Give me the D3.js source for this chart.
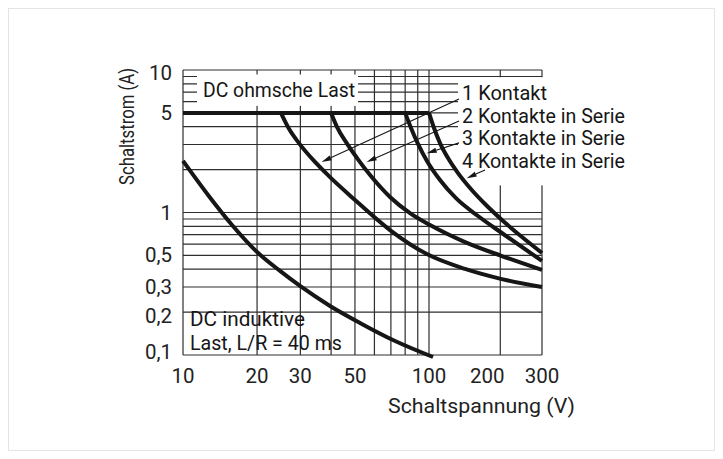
<!DOCTYPE html>
<html><head><meta charset="utf-8">
<script src="https://cdn.jsdelivr.net/npm/d3@7"></script>
<style>
html,body{margin:0;padding:0;background:#fff;}
svg{display:block;font-family:Roboto,"Noto Sans",sans-serif;}
</style></head>
<body><svg id="c" width="723" height="459"></svg>
<script>
// ---- data ----
const xGrid = [10,20,30,40,50,60,70,80,90,100,200,300];
const yGrid = [0.1,0.2,0.3,0.4,0.5,0.6,0.7,0.8,0.9,1,2,3,4,5,6,7,8,9,10];
const xTicks = [10,20,30,50,100,200,300];
const xTickLabels = ["10","20","30","50","100","200","300"];
const yTicks = [10,5,1,0.5,0.3,0.2,0.1];
const yTickLabels = ["10","5","1","0,5","0,3","0,2","0,1"];
const ratedCurrent = [[10,5],[100,5]];
const kontakt1 = [[25,5],[27,3.85],[29.6,3.07],[34.1,2.3],[39.2,1.8],[49.1,1.26],[69.4,0.753],[98,0.511],[142,0.402],[203,0.341],[300,0.30]];
const kontakt2 = [[40,5],[42.3,3.98],[46,3.12],[51,2.41],[57.6,1.83],[69.4,1.285],[83.7,0.99],[101,0.817],[142,0.62],[203,0.495],[300,0.395]];
const kontakt3 = [[80,5],[84.5,3.92],[90.2,3.03],[98.1,2.3],[111.3,1.69],[130,1.26],[161,0.945],[203,0.718],[300,0.457]];
const kontakt4 = [[100,5],[105,3.92],[111.3,3.07],[120.3,2.41],[132.6,1.89],[149,1.486],[172.4,1.147],[203.3,0.886],[247,0.673],[300,0.52]];
const induktiv = [[10,2.3],[12.64,1.327],[15.82,0.817],[20,0.528],[24.8,0.389],[29.9,0.305],[39.6,0.221],[52.4,0.168],[72.8,0.1254],[104,0.0968]];
const seriesNames = ["1 Kontakt","2 Kontakte in Serie","3 Kontakte in Serie","4 Kontakte in Serie"];
const seriesLabelWidths = [85,163,163,163];
// leader arrows: [from (V,A), to (V,A)]
const arrows = [
  [[133.9,6.25],[36.6,2.26]],
  [[133.9,4.39],[55.8,2.26]],
  [[133.9,3.08],[97.9,2.6]],
  [[172.4,1.99],[144.3,1.74]]
];

// ---- chart ----
const svg = d3.select("#c");
const x = d3.scaleLog().domain([10,100,300]).range([183,429,542]);
const y = d3.scaleLog().domain([0.1,10]).range([355,70]);
const ink = "#161616", gridCol = "#2e2e2e";

svg.append("rect").attr("x",8.5).attr("y",8.5).attr("width",706).attr("height",442)
  .attr("fill","none").attr("stroke","#e4e4e4").attr("stroke-width",1);

const g = svg.append("g");
g.selectAll(".gx").data(xGrid).join("line")
  .attr("x1",d=>x(d)).attr("x2",d=>x(d)).attr("y1",y(0.1)).attr("y2",y(10))
  .attr("stroke",gridCol).attr("stroke-width",1.2);
g.selectAll(".gy").data(yGrid).join("line")
  .attr("x1",x(10)).attr("x2",x(300)).attr("y1",d=>y(d)).attr("y2",d=>y(d))
  .attr("stroke",gridCol).attr("stroke-width",1.2);

const boxes = svg.append("g");
const labels = svg.append("g").attr("fill",ink).attr("font-size",20);

labels.append("text").attr("x",203).attr("y",y(7.2)).attr("dominant-baseline","central")
  .attr("textLength",152).attr("lengthAdjust","spacingAndGlyphs").text("DC ohmsche Last");
labels.selectAll(".lg").data(seriesNames).join("text")
  .attr("x",462).attr("y",(d,i)=>y(6.9) + i*22.7).attr("dominant-baseline","central")
  .attr("textLength",(d,i)=>seriesLabelWidths[i]).attr("lengthAdjust","spacingAndGlyphs").text(d=>d);

boxes.append("rect").attr("x",197).attr("y",y(9.3)).attr("width",161).attr("height",y(5.6)-y(9.3)).attr("fill","#fff");
boxes.append("rect").attr("x",458).attr("y",y(8.9)).attr("width",180).attr("height",y(1.55)-y(8.9)).attr("fill","#fff");

labels.append("text").attr("x",190).attr("y",y(0.178)).attr("dominant-baseline","central")
  .attr("textLength",115).attr("lengthAdjust","spacingAndGlyphs").text("DC induktive");
labels.append("text").attr("x",190).attr("y",y(0.122)).attr("dominant-baseline","central")
  .attr("textLength",152).attr("lengthAdjust","spacingAndGlyphs").text("Last, L/R = 40 ms");

// curves
const line = d3.line().x(d=>x(d[0])).y(d=>y(d[1])).curve(d3.curveMonotoneX);
const cg = svg.append("g").attr("fill","none").attr("stroke",ink).attr("stroke-width",4).attr("stroke-linecap","butt");
[ratedCurrent,kontakt1,kontakt2,kontakt3,kontakt4,induktiv].forEach(s=>{
  cg.append("path").datum(s).attr("d",line);
});

// arrows
const ag = svg.append("g");
arrows.forEach(([a,b])=>{
  const x1=x(a[0]),y1=y(a[1]),x2=x(b[0]),y2=y(b[1]);
  const ang=Math.atan2(y2-y1,x2-x1), L=10, W=2.6;
  const bx=x2-L*Math.cos(ang), by=y2-L*Math.sin(ang);
  ag.append("line").attr("x1",x1).attr("y1",y1).attr("x2",bx).attr("y2",by).attr("stroke",ink).attr("stroke-width",1.1);
  ag.append("path").attr("d",`M${x2},${y2}L${bx-W*Math.sin(ang)},${by+W*Math.cos(ang)}L${bx+W*Math.sin(ang)},${by-W*Math.cos(ang)}Z`).attr("fill",ink);
});

// axis tick labels
const tl = svg.append("g").attr("fill","#222").attr("font-size",20.5);
tl.selectAll(".xt").data(xTicks).join("text")
  .attr("x",(d,i)=>x(d) + (xTickLabels[i]==="200"?-13:0)).attr("y",376).attr("text-anchor","middle").attr("dominant-baseline","central")
  .text((d,i)=>xTickLabels[i]);
tl.selectAll(".yt").data(yTicks).join("text")
  .attr("x",172).attr("y",(d,i)=>y(d) + ({"10":3,"0,2":4,"0,1":-3}[yTickLabels[i]]||0)).attr("text-anchor","end").attr("dominant-baseline","central")
  .text((d,i)=>yTickLabels[i]);

// axis titles
tl.append("text").attr("x",388).attr("y",406).attr("dominant-baseline","central").attr("font-size",20)
  .attr("textLength",187).attr("lengthAdjust","spacingAndGlyphs").text("Schaltspannung (V)");
tl.append("text").attr("transform","translate(127,126.5) rotate(-90)").attr("x",-58.5).attr("dominant-baseline","central").attr("font-size",20)
  .attr("textLength",117).attr("lengthAdjust","spacingAndGlyphs").text("Schaltstrom (A)");
</script></body></html>
